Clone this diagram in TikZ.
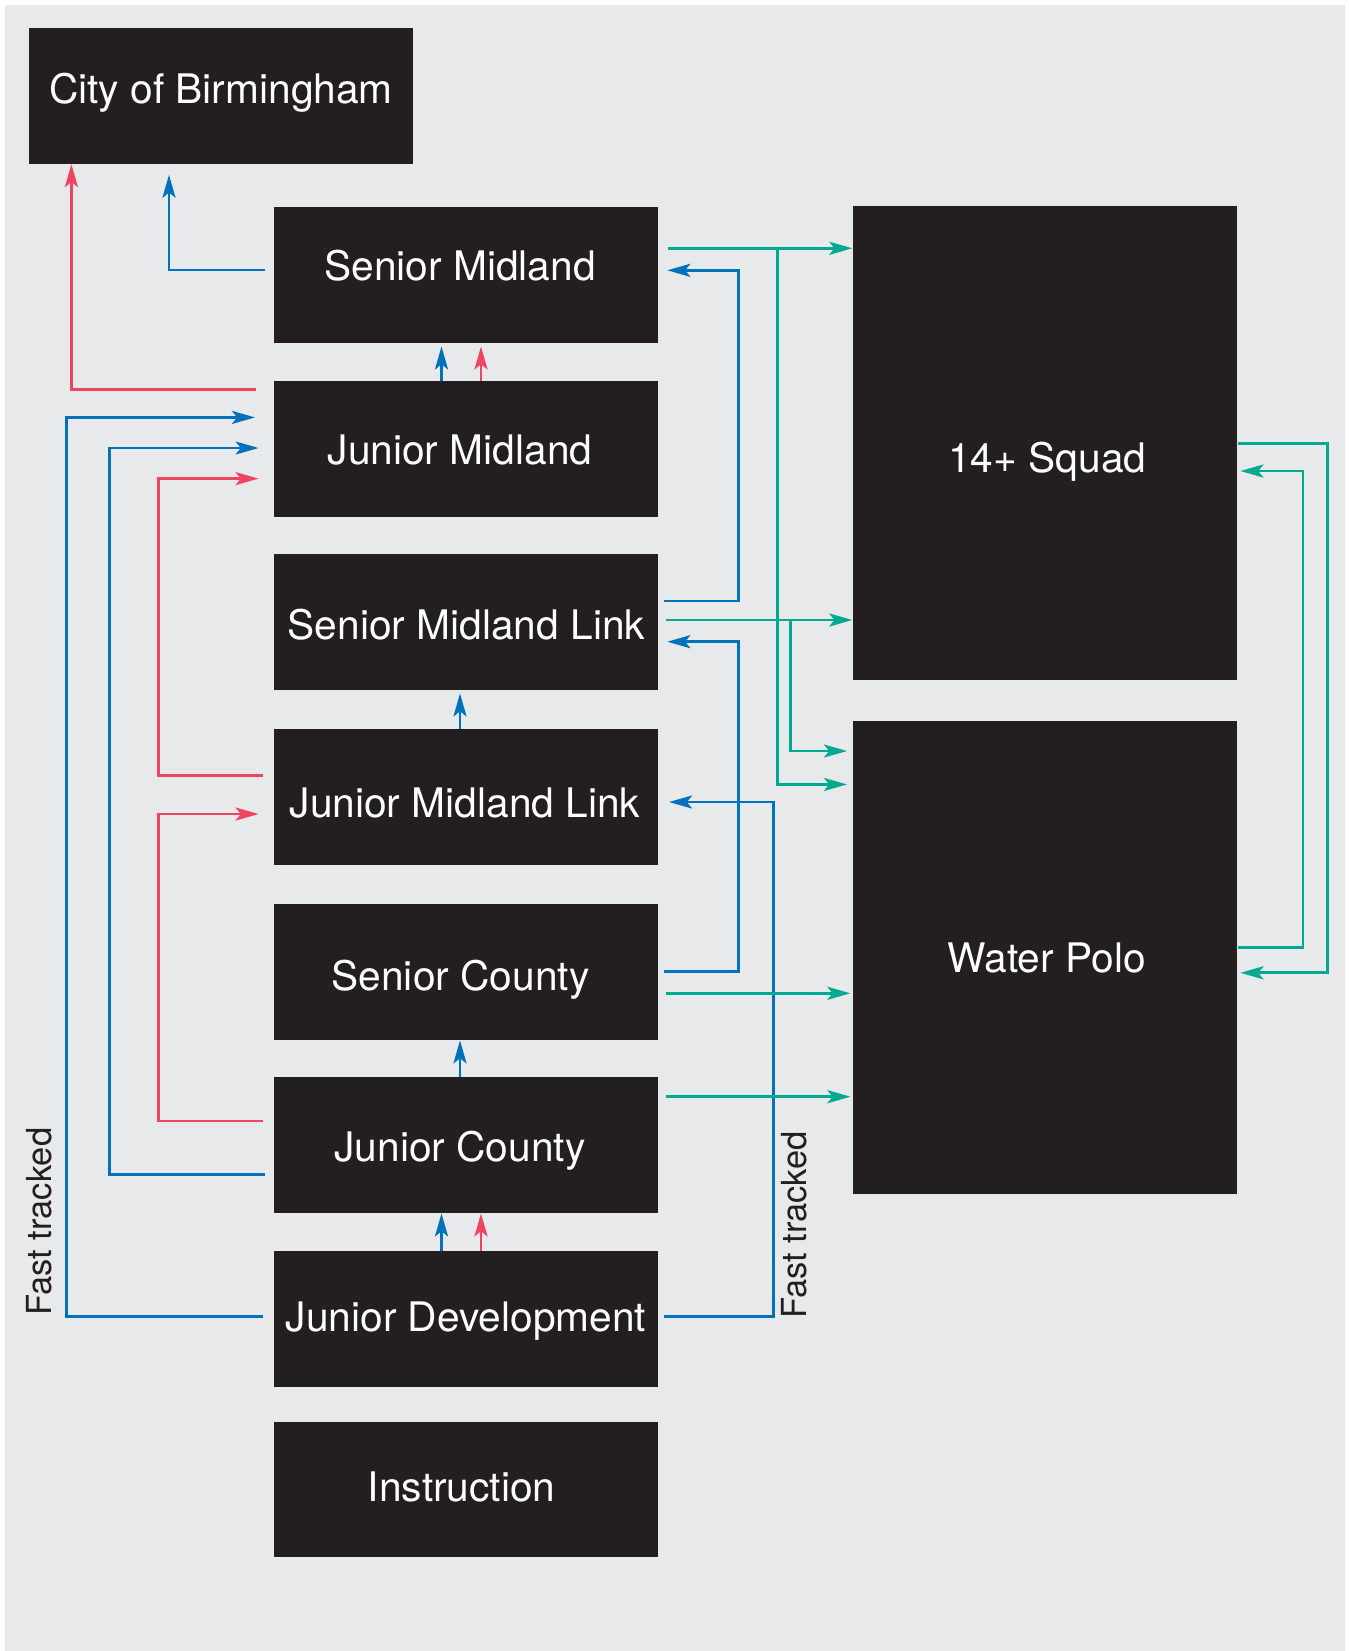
\documentclass[tikz,border=0pt]{standalone}
\usepackage{fontspec}
\setmainfont{TeX Gyre Heros}
\usetikzlibrary{arrows.meta,calc}
\definecolor{bgcol}{HTML}{E8E9EB}
\definecolor{boxcol}{HTML}{231F20}
\definecolor{bl}{HTML}{0072BC}
\definecolor{rd}{HTML}{EF4560}
\definecolor{gr}{HTML}{00A98F}
\tikzset{
  box/.style={fill=boxcol, draw=none, inner sep=0pt, minimum width=192pt, minimum height=67.85pt},
  bigbox/.style={fill=boxcol, draw=none, inner sep=0pt, minimum width=192pt},
  lbl/.style={text=white, anchor=base, inner sep=0pt, font=\fontsize{20.35pt}{24pt}\selectfont},
  side/.style={text=boxcol, anchor=base, inner sep=0pt, rotate=90, font=\fontsize{17.25pt}{20pt}\selectfont},
  conn/.style={line width=1.45pt, -{Stealth[length=11.5pt, width=6.5pt, inset=2.6pt]}},
  bconn/.style={conn, draw=bl, color=bl},
  rconn/.style={conn, draw=rd, color=rd},
  gconn/.style={conn, draw=gr, color=gr}
}
\begin{document}
\begin{tikzpicture}[x=0.5pt, y=-0.5pt]
\useasboundingbox (0,0) rectangle (1349,1651);
\fill[white] (0,0) rectangle (1349,1651);
\fill[bgcol] (5.4,5) rectangle (1345,1651);

% boxes
\node[box] (city) at (221,95.85) {};
\node[box] (sm)   at (466,274.85) {};
\node[box] (jm)   at (466,448.85) {};
\node[box] (sml)  at (466,622) {};
\node[box] (jml)  at (466,796.85) {};
\node[box] (sc)   at (466,971.85) {};
\node[box] (jc)   at (466,1144.85) {};
\node[box] (jd)   at (466,1318.85) {};
\node[box] (ins)  at (466,1489.5) {};
\node[bigbox, minimum height=236.9pt] (sq) at (1045.2,442.6) {};
\node[bigbox, minimum height=236.5pt] (wp) at (1045.2,957.5) {};

% labels
\node[lbl] (tcity) at (221,103) {City of Birmingham};
\node[lbl] (tsm)   at (460,280.7) {Senior Midland};
\node[lbl] (tjm)   at (460,464) {Junior Midland};
\node[lbl] (tsml)  at (466.5,639) {Senior Midland Link};
\node[lbl] (tjml)  at (465,817.7) {Junior Midland Link};
\node[lbl] (tsc)   at (460.5,990) {Senior County};
\node[lbl] (tjc)   at (460,1161.7) {Junior County};
\node[lbl] (tjd)   at (466,1331.7) {Junior Development};
\node[lbl] (tins)  at (461.7,1501.7) {Instruction};
\node[lbl] (tsq)   at (1047.3,472) {14+ Squad};
\node[lbl] (twp)   at (1046.6,972) {Water Polo};

\node[side] (ftl) at (51.7,1221.7) {Fast tracked};
\node[side] (ftr) at (806.7,1225) {Fast tracked};

% blue connectors
\draw[bconn] ($(sm.west)+(-8.4,-4.85)$) -| ($(city.south)+(-52,10.6)$);
\draw[bconn] ($(jm.north)+(-24.5,0)$) -- ($(sm.south)+(-24.5,3.3)$);
\draw[bconn] ($(sml.east)+(5.4,-21)$) -- ++(74.6,0) |- ($(sm.east)+(8.9,-4.55)$);
\draw[bconn] ($(sc.east)+(5.4,-0.15)$) -- ++(74.6,0) |- ($(sml.east)+(8.9,19.7)$);
\draw[bconn] ($(jml.north)+(-6,0)$) -- ($(sml.south)+(-6,3.15)$);
\draw[bconn] ($(jc.north)+(-6,0)$) -- ($(sc.south)+(-6,0.3)$);
\draw[bconn] ($(jc.west)+(-8.4,29.45)$) -- ++(-155.3,0) |- ($(jm.west)+(-15,-0.85)$);
\draw[bconn] ($(jd.west)+(-10.6,-2.15)$) -- ++(-196.4,0) |- ($(jm.west)+(-18.6,-31.45)$);
\draw[bconn] ($(jd.north)+(-24.5,0)$) -- ($(jc.south)+(-24.5,0.3)$);
\draw[bconn] ($(jd.east)+(5.4,-2.15)$) -- ++(109.5,0) |- ($(jml.east)+(10.6,5.15)$);

% red connectors
\draw[rconn] ($(jm.west)+(-18,-59.55)$) -| ($(city.south)+(-149.6,0)$);
\draw[rconn] ($(jm.north)+(15,0)$) -- ($(sm.south)+(15,3.3)$);
\draw[rconn] ($(jml.west)+(-10.6,-21.25)$) -- ++(-104.9,0) |- ($(jm.west)+(-15,29.75)$);
\draw[rconn] ($(jc.west)+(-10.6,-23.85)$) -- ++(-104.9,0) |- ($(jml.west)+(-15,17.15)$);
\draw[rconn] ($(jd.north)+(15,0)$) -- ($(jc.south)+(15,0.3)$);

% green connectors
\coordinate (g1s) at ($(sm.east)+(10,-26.55)$);
\coordinate (g1b) at ($(g1s)+(109.2,0)$);
\draw[gconn] (g1s) -- ($(sq.west |- g1s)+(-0.5,0)$);
\draw[gconn] (g1b) |- ($(wp.west)+(-5.8,-173.1)$);
\coordinate (g2s) at ($(sml.east)+(7.8,-2)$);
\coordinate (g2b) at ($(g2s)+(124.3,0)$);
\draw[gconn] (g2s) -- ($(sq.west |- g2s)+(-0.5,0)$);
\draw[gconn] (g2b) |- ($(wp.west)+(-5.8,-206.5)$);
\coordinate (g3s) at ($(sc.east)+(7.8,21.45)$);
\draw[gconn] (g3s) -- ($(wp.west |- g3s)+(-2.4,0)$);
\coordinate (g4s) at ($(jc.east)+(7.8,-48.15)$);
\draw[gconn] (g4s) -- ($(wp.west |- g4s)+(-2.4,0)$);
\draw[gconn] ($(sq.east)+(0,0.7)$) -- ++(90.3,0) |- ($(wp.east)+(2.8,15.3)$);
\draw[gconn] ($(wp.east)+(0,-10.2)$) -- ++(65.4,0) |- ($(sq.east)+(2.8,28.4)$);
\end{tikzpicture}
\end{document}
